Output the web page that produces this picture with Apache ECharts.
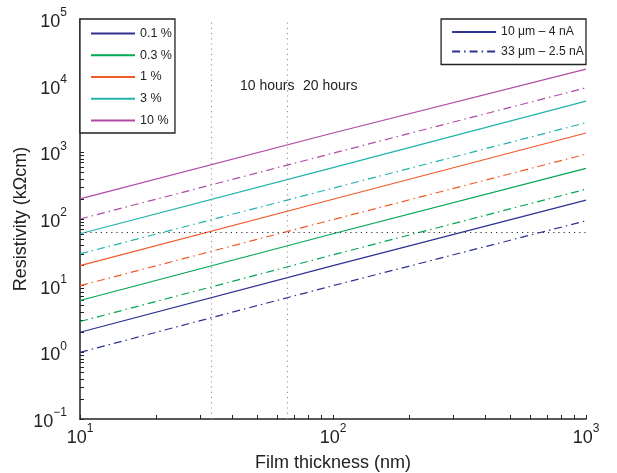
<!DOCTYPE html>
<html>
<head>
<meta charset="utf-8">
<script src="https://cdn.jsdelivr.net/npm/echarts@6/dist/echarts.min.js"></script>
<style>
  html, body { margin: 0; padding: 0; background: #fff; }
  #chart { width: 617px; height: 473px; }
</style>
</head>
<body>
<div id="chart"></div>
<script>
// Film thickness samples (nm)
const thickness = [10, 100, 1000];

// Dopant concentrations and beam settings
const concentrations = ['0.1 %', '0.3 %', '1 %', '3 %', '10 %'];
const beamSettings = ['10 μm – 4 nA', '33 μm – 2.5 nA'];

// Resistivity (kΩcm), 10 μm – 4 nA beam
const rho10_c01 = [2, 20, 192];
const rho10_c03 = [6, 60, 575];
const rho10_c1  = [20, 198, 1950];
const rho10_c3  = [60, 590, 5850];
const rho10_c10 = [200, 1950, 17700];

// Resistivity (kΩcm), 33 μm – 2.5 nA beam
const rho33_c01 = [1, 10, 94];
const rho33_c03 = [2.9, 29, 280];
const rho33_c1  = [10, 98, 940];
const rho33_c3  = [30, 290, 2780];
const rho33_c10 = [100, 970, 9300];

// Reference markers: thickness after 10 h and 20 h, target resistivity
const hourMarks = [33, 66];
const hourLabels = ['10 hours', '20 hours'];
const targetResistivity = [63];

// Axis decades
const xDecades = [10, 100, 1000];
const yDecades = [0.1, 1, 10, 100, 1000, 10000, 100000];

const colors = ['#2e3192', '#00a651', '#f15a29', '#22b3ac', '#b04aa6'];
const FONT = 'Liberation Sans, Arial, Helvetica, sans-serif';
const dashDot = [8, 4, 1.5, 4];

const solidSets = [rho10_c01, rho10_c03, rho10_c1, rho10_c3, rho10_c10];
const dashSets  = [rho33_c01, rho33_c03, rho33_c1, rho33_c3, rho33_c10];

function pairs(vals) { return thickness.map((t, i) => [t, vals[i]]); }

// minor ticks at 1..9 × each decade
function logTicks(decades) {
  const out = [];
  for (let i = 0; i < decades.length; i++) {
    const d = decades[i];
    if (i === decades.length - 1) { out.push(d); break; }
    for (let k = 1; k <= 9; k++) out.push(+(d * k).toPrecision(6));
  }
  return out;
}

function powLabel(v) {
  const e = Math.round(Math.log10(v));
  const es = e < 0 ? '\u2212' + (-e) : String(e);
  return '{b|10}{e|' + es + '}';
}

const richLabel = {
  b: { fontSize: 18, fontFamily: FONT, color: '#222', lineHeight: 24, verticalAlign: 'bottom' },
  e: { fontSize: 12, fontFamily: FONT, color: '#222', lineHeight: 24, verticalAlign: 'top' }
};

const series = [];
concentrations.forEach((name, i) => {
  series.push({
    name: name, type: 'line', data: pairs(solidSets[i]),
    symbol: 'none', showSymbol: false, color: colors[i],
    lineStyle: { width: 1.2, color: colors[i], type: 'solid' },
    z: 3
  });
  series.push({
    name: name + ' (33 μm)', type: 'line', data: pairs(dashSets[i]),
    symbol: 'none', showSymbol: false, color: colors[i],
    lineStyle: { width: 1.2, color: colors[i], type: dashDot },
    z: 3
  });
});
// beam-setting legend entries
series.push({
  name: beamSettings[0], type: 'line', data: [], symbol: 'none', color: colors[0],
  lineStyle: { width: 1.2, color: colors[0], type: 'solid' }
});
series.push({
  name: beamSettings[1], type: 'line', data: [], symbol: 'none', color: colors[0],
  lineStyle: { width: 1.2, color: colors[0], type: dashDot }
});
// dotted reference lines
series.push({
  name: 'markers', type: 'line', data: [], symbol: 'none', silent: true,
  markLine: {
    silent: true, symbol: ['none', 'none'], animation: false,
    label: { show: false },
    data: [
      { xAxis: hourMarks[0], lineStyle: { color: '#999', type: [1.2, 4], width: 1.2 } },
      { xAxis: hourMarks[1], lineStyle: { color: '#999', type: [1.2, 4], width: 1.2 } },
      { yAxis: targetResistivity[0], lineStyle: { color: '#333', type: [1.2, 4], width: 1.2 } }
    ]
  }
});

const legendBase = {
  orient: 'vertical', top: 19,
  itemWidth: 44, itemHeight: 14,
  borderColor: '#222', borderWidth: 1.3, borderRadius: 0,
  backgroundColor: '#fff',
  itemStyle: { opacity: 0 },
  textStyle: { fontSize: 12.5, fontFamily: FONT, color: '#222' },
  selectedMode: false
};

const chart = echarts.init(document.getElementById('chart'), null, { renderer: 'canvas' });
chart.setOption({
  animation: false,
  backgroundColor: '#fff',
  textStyle: { fontFamily: FONT },
  grid: { left: 80, right: 31, top: 19, bottom: 54, containLabel: false, outerBoundsMode: 'none' },
  xAxis: {
    type: 'log', logBase: 10, min: 10, max: 1000,
    name: 'Film thickness (nm)', nameLocation: 'middle', nameGap: 35, nameMoveOverlap: false,
    nameTextStyle: { fontSize: 18, fontFamily: FONT, color: '#222' },
    axisLine: { show: true, lineStyle: { color: '#222', width: 1.5 } },
    axisTick: { show: true, inside: true, length: 4, lineStyle: { color: '#222', width: 1 },
                customValues: logTicks(xDecades) },
    minorTick: { show: false },
    axisLabel: { show: true, margin: 4, customValues: xDecades, formatter: powLabel, rich: richLabel },
    splitLine: { show: false }
  },
  yAxis: {
    type: 'log', logBase: 10, min: 0.1, max: 100000,
    name: 'Resistivity (kΩcm)', nameLocation: 'middle', nameGap: 50, nameRotate: 90,
    nameMoveOverlap: false,
    nameTextStyle: { fontSize: 18, fontFamily: FONT, color: '#222' },
    axisLine: { show: true, lineStyle: { color: '#222', width: 1.5 } },
    axisTick: { show: true, inside: true, length: 4, lineStyle: { color: '#222', width: 1 },
                customValues: logTicks(yDecades) },
    minorTick: { show: false },
    axisLabel: { show: true, margin: 13, customValues: yDecades, formatter: powLabel, rich: richLabel },
    splitLine: { show: false }
  },
  legend: [
    Object.assign({}, legendBase, {
      id: 'conc', data: concentrations, left: 80, itemGap: 8.75,
      padding: [8, 3, 6, 10]
    }),
    Object.assign({}, legendBase, {
      id: 'beam', data: beamSettings, right: 31, itemGap: 7.5,
      padding: [7, 2, 7, 10],
      textStyle: { fontSize: 12.2, fontFamily: FONT, color: '#222' }
    })
  ],
  graphic: [
    { type: 'text', left: 240, top: 79,
      style: { text: hourLabels[0], font: '14px ' + FONT, fill: '#222' } },
    { type: 'text', left: 303, top: 79,
      style: { text: hourLabels[1], font: '14px ' + FONT, fill: '#222' } }
  ],
  series: series
});
</script>
</body>
</html>
